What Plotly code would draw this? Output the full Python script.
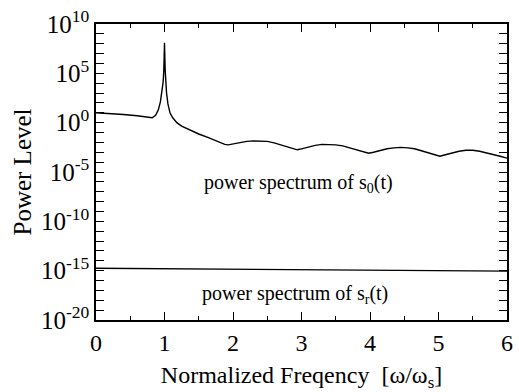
import plotly.graph_objects as go

# Normalized frequency and log10 power of s0(t)
freq_s0 = [0, 0.2, 0.4, 0.6, 0.75, 0.82, 0.87, 0.91, 0.94, 0.96, 0.98, 0.99, 1.0,
           1.01, 1.02, 1.03, 1.05, 1.08, 1.12, 1.18, 1.25, 1.35, 1.5, 1.65, 1.8,
           1.88, 1.93, 2.0, 2.1, 2.2, 2.3, 2.4, 2.5, 2.6, 2.7, 2.8, 2.88, 2.94,
           3.0, 3.1, 3.2, 3.3, 3.4, 3.5, 3.6, 3.7, 3.8, 3.9, 3.98, 4.05, 4.15,
           4.25, 4.35, 4.45, 4.55, 4.65, 4.75, 4.85, 4.95, 5.02, 5.1, 5.2, 5.3,
           5.4, 5.5, 5.6, 5.7, 5.8, 5.9, 6.0]
exp_s0 = [1.0, 0.93, 0.83, 0.7, 0.55, 0.5, 0.75, 1.3, 2.1, 2.9, 4.1, 5.3, 8.1,
          5.3, 4.0, 3.0, 1.9, 1.0, 0.5, 0.0, -0.35, -0.7, -1.15, -1.55, -1.95,
          -2.2, -2.25, -2.15, -2.0, -1.9, -1.85, -1.85, -1.9, -2.05, -2.25, -2.45,
          -2.65, -2.75, -2.65, -2.45, -2.3, -2.2, -2.2, -2.25, -2.35, -2.55,
          -2.75, -2.95, -3.1, -3.0, -2.8, -2.65, -2.55, -2.5, -2.55, -2.65,
          -2.85, -3.05, -3.25, -3.4, -3.25, -3.05, -2.9, -2.8, -2.8, -2.9,
          -3.05, -3.25, -3.4, -3.6]

# s_r(t) power spectrum (nearly flat)
freq_sr = [0, 3, 6]
exp_sr = [-14.75, -14.9, -15.05]

ytick_vals = [1e10, 1e5, 1e0, 1e-5, 1e-10, 1e-15, 1e-20]
ytick_text = ["10<sup>10</sup>", "10<sup>5</sup>", "10<sup>0</sup>", "10<sup>-5</sup>",
              "10<sup>-10</sup>", "10<sup>-15</sup>", "10<sup>-20</sup>"]
xtick_vals = [0, 1, 2, 3, 4, 5, 6]

label_s0 = "power spectrum of s<sub>0</sub>(t)"
label_sr = "power spectrum of s<sub>r</sub>(t)"

FONT = "Liberation Serif"

fig = go.Figure()
fig.add_trace(go.Scatter(x=freq_s0, y=[10 ** e for e in exp_s0], mode="lines",
                         line=dict(color="black", width=1.4), showlegend=False))
fig.add_trace(go.Scatter(x=freq_sr, y=[10 ** e for e in exp_sr], mode="lines",
                         line=dict(color="black", width=1.4), showlegend=False))

fig.add_annotation(x=2.95, y=-6.15, yref="y", xref="x", text=label_s0, showarrow=False,
                   font=dict(family=FONT, size=20, color="black"))
fig.add_annotation(x=2.9, y=-17.4, yref="y", xref="x", text=label_sr, showarrow=False,
                   font=dict(family=FONT, size=20, color="black"))

fig.update_layout(
    width=519, height=392,
    margin=dict(l=96, r=6, t=19, b=72),
    paper_bgcolor="white", plot_bgcolor="white",
    font=dict(family=FONT, size=22, color="black"),
    xaxis=dict(range=[0, 6], tickvals=xtick_vals, ticks="inside", ticklen=8,
               tickwidth=1.2, tickcolor="black", mirror="ticks", showline=True,
               linecolor="black", linewidth=1.5, showgrid=False, zeroline=False,
               tickfont=dict(family=FONT, size=24),
               minor=dict(dtick=0.5, ticks="inside", ticklen=4, tickwidth=1.2,
                          tickcolor="black", showgrid=False),
               title=dict(text="Normalized Freqency  [ω/ω<sub>s</sub>]",
                          font=dict(family=FONT, size=24), standoff=12)),
    yaxis=dict(type="log", range=[-20, 10], tickvals=ytick_vals, ticktext=ytick_text,
               ticks="inside", ticklen=8, tickwidth=1.2, tickcolor="black",
               mirror="ticks", showline=True, linecolor="black", linewidth=1.5,
               showgrid=False, zeroline=False, tickfont=dict(family=FONT, size=25),
               minor=dict(dtick=1, ticks="inside", ticklen=8, tickwidth=1.2,
                          tickcolor="black", showgrid=False),
               title=dict(text="Power Level", font=dict(family=FONT, size=25),
                          standoff=2)),
)

fig.write_html("out.html")
